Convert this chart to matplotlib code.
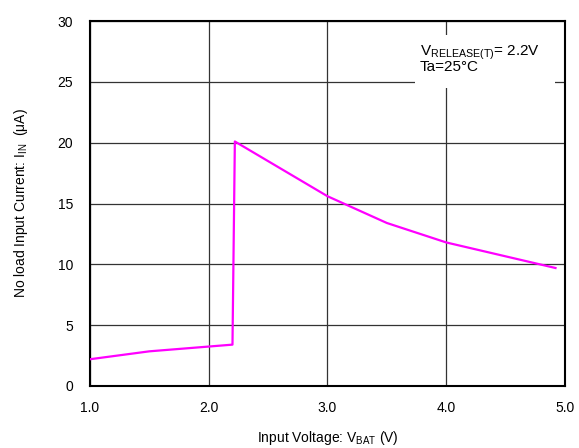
import matplotlib
matplotlib.use("Agg")
import matplotlib.pyplot as plt
from matplotlib.patches import Rectangle

plt.rcParams["font.family"] = ["Liberation Sans", "DejaVu Sans"]
plt.rcParams["mathtext.fontset"] = "custom"
plt.rcParams["mathtext.rm"] = "Liberation Sans"

# I_IN vs V_BAT
v_bat = [1.0, 1.5, 2.2, 2.22, 3.0, 3.5, 4.0, 4.92]
i_in = [2.2, 2.85, 3.4, 20.1, 15.6, 13.4, 11.8, 9.7]

x_ticks = [1.0, 2.0, 3.0, 4.0, 5.0]
y_ticks = [0, 5, 10, 15, 20, 25, 30]

fig = plt.figure(figsize=(5.79, 4.48), dpi=100)
ax = fig.add_axes([0.1554, 0.1384, 0.8204, 0.8146])

ax.plot(v_bat, i_in, color="#ff00ff", lw=1.6, zorder=3)

ax.set_xlim(1.0, 5.0)
ax.set_ylim(0, 30)
ax.set_xticks(x_ticks)
ax.set_xticklabels([f"{t:.1f}" for t in x_ticks])
ax.set_yticks(y_ticks)
ax.tick_params(length=0, labelsize=10)
ax.tick_params(axis="x", pad=11)
ax.tick_params(axis="y", pad=12)
ax.grid(True, color="#333333", lw=0.9)
for s in ax.spines.values():
    s.set_linewidth(1.5)

ax.set_xlabel(r"Input Voltage: V$_{\mathregular{BAT}}$ (V)", fontsize=10, labelpad=10)
ax.set_ylabel(r"No load Input Current: I$_{\mathregular{IN}}$  (μA)", fontsize=10, labelpad=20)

# white label box hiding the grid behind the conditions
ax.add_patch(Rectangle((0.684, 0.816), 0.295, 0.146, transform=ax.transAxes,
                       facecolor="white", edgecolor="none", zorder=2.5))
ax.text(0.694, 0.94, "V$_{\\mathregular{RELEASE(T)}}$= 2.2V\nTa=25\u00b0C",
        transform=ax.transAxes, fontsize=11, ha="left", va="top",
        linespacing=0.85, zorder=4)

fig.savefig("out.png", dpi=100)
